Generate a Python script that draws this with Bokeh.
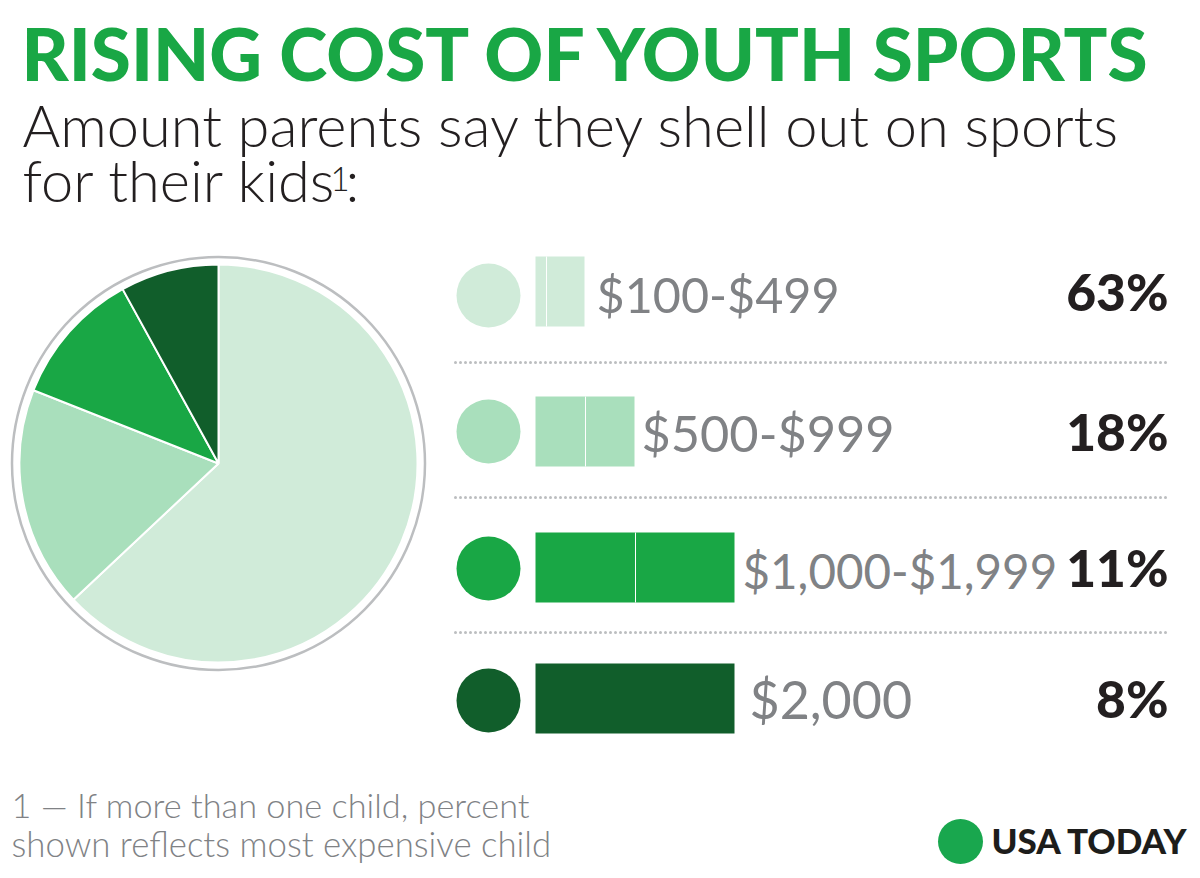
from bokeh.plotting import figure
from bokeh.models import Range1d, ColumnDataSource
from bokeh.core.properties import value
from bokeh.embed import file_html
from bokeh.resources import INLINE
import math

# ---------- data ----------
categories = ["$100-$499", "$500-$999", "$1,000-$1,999", "$2,000"]
shares = [63, 18, 11, 8]
share_labels = ["63%", "18%", "11%", "8%"]
bar_first = [11, 50, 100, 199]
bar_second = [38, 49, 99, 0]
colors = ["#d0ebd9", "#a9dfbc", "#19a745", "#115e2b"]
title = "RISING COST OF YOUTH SPORTS"
subtitle = ["Amount parents say they shell out on sports", "for their kids"]
footnote = ["1 \u2014 If more than one child, percent", "shown reflects most expensive child"]
brand = "USA TODAY"

# ---------- layout (page pixels) ----------
W, H = 1200, 878
PH = 878
def Y(py):
    return PH - py

p = figure(width=W, height=H, output_backend="svg", toolbar_location=None,
           x_range=Range1d(0, W), y_range=Range1d(0, H),
           min_border=0, outline_line_color=None, background_fill_color="white",
           border_fill_color="white")
p.axis.visible = False
p.grid.visible = False

GREEN = "#19a745"
GRAY = "#808285"
DARK = "#231f20"
LIGHT = "'Lato Light', Lato"
REG = "Lato"
HEAVY = "'Lato Black', Lato"
BASE = {LIGHT: 0.42, REG: 0.40, HEAVY: 0.38}

def text(x, y, s, size, color, font, style="normal", align="left"):
    p.text(x=[x], y=[Y(y - BASE[font] * size)], text=[s], text_font=value(font), text_font_size=f"{size}px",
           text_font_style=style, text_color=color, text_align=align, text_baseline="alphabetic")

# titles
text(21, 80, title, 72.8, GREEN, HEAVY, "bold")
text(22, 148, subtitle[0], 57.8, DARK, LIGHT)
text(22, 203, subtitle[1], 57.8, DARK, LIGHT)
text(330, 192, "1", 33, DARK, LIGHT)
text(345, 203, ":", 57.8, DARK, LIGHT)

# pie
cx, cy, rad = 218, 463, 199
p.circle(x=[cx], y=[Y(cy)], radius=206.5, fill_color=None, line_color="#bcbec0", line_width=2.5)
total = sum(shares)
starts, ends = [], []
acc = 0.0
for v in shares:
    starts.append(math.pi / 2 - acc * 2 * math.pi / total)
    acc += v
    ends.append(math.pi / 2 - acc * 2 * math.pi / total)
pie = ColumnDataSource(dict(start=starts, end=ends, color=colors))
p.wedge(x=cx, y=Y(cy), radius=rad, start_angle="start", end_angle="end", direction="clock",
        fill_color="color", line_color="white", line_width=2, source=pie)

# rows
row_y = [291, 431, 567, 698]
dot_y = [295, 431, 568, 700]
label_x = [596, 641, 742, 749]
label_size = [48.5, 50.5, 47.5, 52]
bar_h = 70
bar_x0 = 535
for i, c in enumerate(categories):
    p.circle(x=[488], y=[Y(dot_y[i])], radius=32, fill_color=colors[i], line_color=None)
    left = bar_x0
    mid = left + bar_first[i]
    right = mid + bar_second[i]
    p.hbar(y=[Y(row_y[i])], height=bar_h, left=[left], right=[right], fill_color=colors[i], line_color=None)
    if bar_second[i] > 0:
        p.segment(x0=[mid], x1=[mid], y0=[Y(row_y[i] - bar_h / 2)], y1=[Y(row_y[i] + bar_h / 2)],
                  line_color="white", line_width=1)
    text(label_x[i], row_y[i] + 21.5, c, label_size[i], GRAY, REG)
    text(1168, row_y[i] + 19, share_labels[i], 51.5, DARK, HEAVY, "bold", "right")

# dotted separators
for sy in [362, 497, 632]:
    p.line(x=[455, 1168], y=[Y(sy), Y(sy)], line_color="#bcbec0", line_width=3,
           line_dash=[0, 5], line_cap="round")

# footnote
text(11, 818, footnote[0], 34.3, GRAY, LIGHT)
text(11, 857.5, footnote[1], 34.8, GRAY, LIGHT)

# logo
p.circle(x=[960], y=[Y(841)], radius=22.5, fill_color="#19a74e", line_color=None)
text(991, 853, brand, 35, "#1d1d1b", HEAVY, "bold")

open("out.html", "w").write(file_html(p, INLINE))
